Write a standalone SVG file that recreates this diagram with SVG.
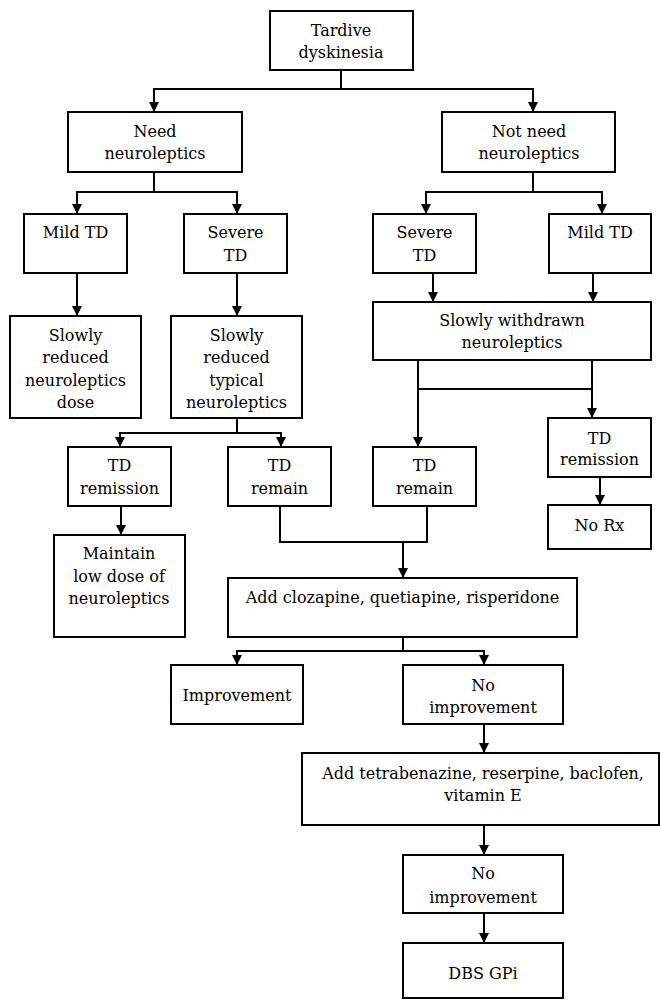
<svg xmlns="http://www.w3.org/2000/svg" width="660" height="1000" viewBox="0 0 660 1000">
<defs>
<style>
rect{fill:#fff;stroke:#000;stroke-width:2}
text{font-family:"DejaVu Serif","Liberation Serif",serif;font-size:16px;fill:#000;text-anchor:middle}
.c path{fill:none;stroke:#000;stroke-width:2}
</style>
<marker id="arr" viewBox="0 0 10 10" refX="10" refY="5" markerWidth="10" markerHeight="10" markerUnits="userSpaceOnUse" orient="auto"><path d="M0,0 L10,5 L0,10 z" fill="#000"/></marker>
</defs>
<rect x="0" y="0" width="660" height="1000" style="stroke:none"/>
<g class="c">
<path d="M341 70 V89 H154 V112" marker-end="url(#arr)"/>
<path d="M341 89 H533 V112" marker-end="url(#arr)"/>
<path d="M154 172 V192 H77 V214" marker-end="url(#arr)"/>
<path d="M154 192 H237 V214" marker-end="url(#arr)"/>
<path d="M533 172 V192 H426 V214" marker-end="url(#arr)"/>
<path d="M533 192 H602 V214" marker-end="url(#arr)"/>
<path d="M77 273 V316" marker-end="url(#arr)"/>
<path d="M237 273 V316" marker-end="url(#arr)"/>
<path d="M433 273 V302" marker-end="url(#arr)"/>
<path d="M593 273 V302" marker-end="url(#arr)"/>
<path d="M237 418 V433 H120 V447" marker-end="url(#arr)"/>
<path d="M237 433 H281 V447" marker-end="url(#arr)"/>
<path d="M418 360 V447" marker-end="url(#arr)"/>
<path d="M592 360 V418" marker-end="url(#arr)"/>
<path d="M418 389 H592"/>
<path d="M121 506 V535" marker-end="url(#arr)"/>
<path d="M600 477 V505" marker-end="url(#arr)"/>
<path d="M280 506 V542 H427 V506"/>
<path d="M403 542 V578" marker-end="url(#arr)"/>
<path d="M403 637 V651 H237 V665" marker-end="url(#arr)"/>
<path d="M403 651 H484 V665" marker-end="url(#arr)"/>
<path d="M484 724 V753" marker-end="url(#arr)"/>
<path d="M484 825 V855" marker-end="url(#arr)"/>
<path d="M484 913 V943" marker-end="url(#arr)"/>
</g>
<g id="n-tardive"><rect x="270" y="11" width="143" height="59"/><text x="341" y="36">Tardive</text><text x="341" y="58">dyskinesia</text></g>
<g id="n-need"><rect x="68" y="112" width="174" height="60"/><text x="155" y="137">Need</text><text x="155" y="159">neuroleptics</text></g>
<g id="n-notneed"><rect x="442" y="112" width="173" height="60"/><text x="529" y="137">Not need</text><text x="529" y="159">neuroleptics</text></g>
<g id="n-mild1"><rect x="24" y="214" width="103" height="59"/><text x="75.5" y="238">Mild TD</text></g>
<g id="n-severe1"><rect x="184" y="214" width="103" height="59"/><text x="235.5" y="238">Severe</text><text x="235.5" y="261">TD</text></g>
<g id="n-severe2"><rect x="373" y="214" width="103" height="59"/><text x="424.5" y="238">Severe</text><text x="424.5" y="261">TD</text></g>
<g id="n-mild2"><rect x="549" y="214" width="102" height="59"/><text x="600" y="238">Mild TD</text></g>
<g id="n-reduce1"><rect x="10" y="316" width="131" height="102"/><text x="75.5" y="341">Slowly</text><text x="75.5" y="363">reduced</text><text x="75.5" y="386">neuroleptics</text><text x="75.5" y="408">dose</text></g>
<g id="n-reduce2"><rect x="171" y="316" width="131" height="102"/><text x="236.5" y="341">Slowly</text><text x="236.5" y="363">reduced</text><text x="236.5" y="386">typical</text><text x="236.5" y="408">neuroleptics</text></g>
<g id="n-withdraw"><rect x="373" y="302" width="278" height="58"/><text x="512" y="326">Slowly withdrawn</text><text x="512" y="348">neuroleptics</text></g>
<g id="n-remission1"><rect x="68" y="447" width="103" height="59"/><text x="119.5" y="471">TD</text><text x="119.5" y="494">remission</text></g>
<g id="n-remain1"><rect x="228" y="447" width="103" height="59"/><text x="279.5" y="471">TD</text><text x="279.5" y="494">remain</text></g>
<g id="n-remain2"><rect x="373" y="447" width="103" height="59"/><text x="424.5" y="471">TD</text><text x="424.5" y="494">remain</text></g>
<g id="n-remission2"><rect x="548" y="418" width="103" height="59"/><text x="599.5" y="444">TD</text><text x="599.5" y="465">remission</text></g>
<g id="n-norx"><rect x="548" y="505" width="103" height="44"/><text x="599.5" y="531">No Rx</text></g>
<g id="n-maintain"><rect x="54" y="535" width="131" height="102"/><text x="119" y="559">Maintain</text><text x="119" y="582">low dose of</text><text x="119" y="604">neuroleptics</text></g>
<g id="n-clozapine"><rect x="228" y="578" width="349" height="59"/><text x="402.5" y="603">Add clozapine, quetiapine, risperidone</text></g>
<g id="n-improve"><rect x="171" y="665" width="132" height="59"/><text x="237" y="701">Improvement</text></g>
<g id="n-noimprove1"><rect x="403" y="665" width="160" height="59"/><text x="483" y="691">No</text><text x="483" y="713">improvement</text></g>
<g id="n-tetra"><rect x="302" y="753" width="357" height="72"/><text x="483" y="779">Add tetrabenazine, reserpine, baclofen,</text><text x="483" y="801">vitamin E</text></g>
<g id="n-noimprove2"><rect x="403" y="855" width="160" height="58"/><text x="483" y="879">No</text><text x="483" y="903">improvement</text></g>
<g id="n-dbs"><rect x="403" y="943" width="160" height="55"/><text x="483" y="979">DBS GPi</text></g>
</svg>
